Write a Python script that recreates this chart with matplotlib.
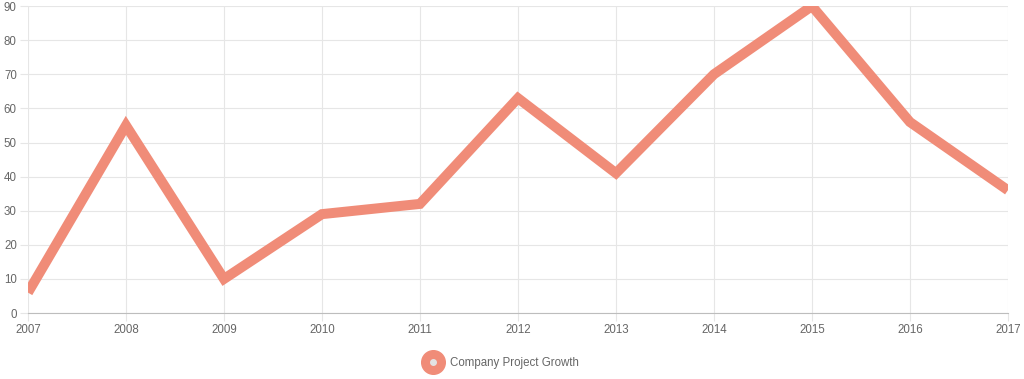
import matplotlib

matplotlib.use("Agg")
import matplotlib.pyplot as plt
from matplotlib.legend_handler import HandlerTuple
from matplotlib.lines import Line2D

YEARS = [2007, 2008, 2009, 2010, 2011, 2012, 2013, 2014, 2015, 2016, 2017]
GROWTH = [6, 55, 10, 29, 32, 63, 41, 70, 90, 56, 36]
Y_TICKS = [0, 10, 20, 30, 40, 50, 60, 70, 80, 90]
SERIES_LABEL = "Company Project Growth"

LINE_COLOR = "#f08c78"
GRID_COLOR = "#e6e6e6"
TEXT_COLOR = "#666666"

plt.rcParams["font.family"] = ["Liberation Sans", "DejaVu Sans"]

fig = plt.figure(figsize=(10.24, 3.79), dpi=100)
ax = fig.add_axes([0.0273, 0.174, 0.957, 0.81])

ax.plot(YEARS, GROWTH, color=LINE_COLOR, linewidth=7.2,
        solid_joinstyle="miter", solid_capstyle="butt", zorder=3)

ax.set_xlim(YEARS[0], YEARS[-1])
ax.set_ylim(0, 90)
ax.set_xticks(YEARS)
ax.set_yticks(Y_TICKS)
ax.grid(True, color=GRID_COLOR, linewidth=0.8)
ax.set_axisbelow(True)
for side in ["top", "right", "left"]:
    ax.spines[side].set_visible(False)
ax.spines["bottom"].set_color("#bdbdbd")
ax.tick_params(axis="both", colors=GRID_COLOR, labelcolor=TEXT_COLOR,
               labelsize=8.3, length=6, width=0.8, pad=2)

# legend marker: filled circle with a small grey dot in the middle
dot_outer = Line2D([0], [0], marker="o", color="none", markersize=17,
                   markerfacecolor=LINE_COLOR, markeredgecolor=LINE_COLOR)
dot_inner = Line2D([0], [0], marker="o", color="none", markersize=4,
                   markerfacecolor="#e3e3e3", markeredgecolor="#e3e3e3")
fig.legend([(dot_outer, dot_inner)], [SERIES_LABEL],
           handler_map={tuple: HandlerTuple(ndivide=1, pad=0)},
           loc="center", bbox_to_anchor=(0.491, 0.042), frameon=False,
           fontsize=8.3, labelcolor=TEXT_COLOR, handlelength=1.2, handletextpad=0.85)

fig.savefig("out.png", dpi=100)
